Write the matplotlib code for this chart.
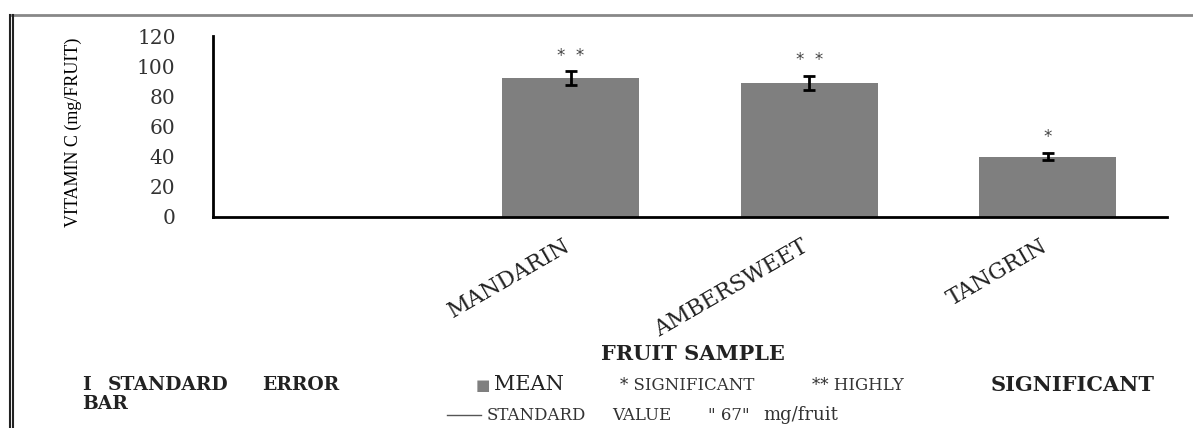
import numpy as np
import matplotlib
matplotlib.use("Agg")
import matplotlib.pyplot as plt
import matplotlib.transforms as mtransforms
from matplotlib.lines import Line2D

# Data
categories = ['MANDARIN', 'AMBERSWEET', 'TANGRIN']
means = [92, 89, 40]
errors = [4.5, 4.5, 2.3]
stars = ['*  *', '*  *', '*']
yticks = [0, 20, 40, 60, 80, 100, 120]

W, H = 1193, 428
fig = plt.figure(figsize=(W / 100, H / 100), dpi=100)

def fx(px):
    return px / W

def fy(py):
    return 1 - py / H

ax = fig.add_axes([fx(213), fy(217), fx(1167) - fx(213), fy(36) - fy(217)])

# first slot of the category axis stays empty (standard value series)
x = np.arange(len(categories)) + 1
ax.bar(x, means, width=0.573, color='#7f7f7f', zorder=2)
ax.errorbar(x, means, yerr=errors, fmt='none', ecolor='black',
            elinewidth=2, capsize=4.5, capthick=2, zorder=3)
for xi, m, e, s in zip(x, means, errors, stars):
    ax.annotate(s, (xi, m + e), xytext=(0, 5), textcoords='offset points',
                ha='center', va='bottom', fontsize=12, color='#444444',
                family='DejaVu Sans')

ax.set_xlim(-0.5, 3.5)
ax.set_ylim(0, 120)
ax.set_yticks(yticks)
ax.set_yticklabels([str(v) for v in yticks], family='DejaVu Serif',
                   fontsize=14.5, color='#333333')
ax.set_xticks(x)
ax.set_xticklabels(categories, rotation=30, ha='right', va='top',
                   rotation_mode='anchor', family='DejaVu Serif',
                   fontsize=16, color='#222222')
ax.tick_params(axis='y', length=0, pad=27)
ax.tick_params(axis='x', length=0, pad=13)
shift = mtransforms.ScaledTranslation(-8 / 100, 0, fig.dpi_scale_trans)
for lbl in ax.get_xticklabels():
    lbl.set_transform(lbl.get_transform() + shift)
for side in ['top', 'right']:
    ax.spines[side].set_visible(False)
ax.spines['left'].set_linewidth(2)
ax.spines['bottom'].set_linewidth(2)

# axis titles
fig.text(fx(73), fy(132), 'VITAMIN C (mg/FRUIT)', rotation=90,
         ha='center', va='center', family='Liberation Serif', fontsize=13)
fig.text(fx(693), fy(354), 'FRUIT SAMPLE', ha='center', va='center',
         family='DejaVu Serif', fontsize=15, fontweight='bold', color='#222222')

# legend / notes row
row1, row1b, row2 = 385, 404, 415
bold = dict(family='DejaVu Serif', fontweight='bold', color='#222222',
            ha='left', va='center', fontsize=13.5)
thin = dict(family='DejaVu Serif', color='#333333', ha='left', va='center',
            fontsize=12)
fig.text(fx(82), fy(row1), 'I', **bold)
fig.text(fx(108), fy(row1), 'STANDARD', **bold)
fig.text(fx(262), fy(row1), 'ERROR', **bold)
fig.text(fx(82), fy(row1b), 'BAR', **bold)

fig.text(fx(476), fy(row1 + 1), '■', ha='left', va='center', fontsize=11,
         color='#7f7f7f', family='DejaVu Sans')
fig.text(fx(494), fy(row1), 'MEAN', ha='left', va='center',
         family='DejaVu Serif', fontsize=15, color='#222222')
fig.text(fx(620), fy(row1), '* SIGNIFICANT', **thin)
fig.text(fx(812), fy(row1), '** HIGHLY', **thin)
fig.text(fx(1155), fy(row1), 'SIGNIFICANT', **dict(bold, ha='right',
                                                    fontsize=15))

fig.add_artist(Line2D([fx(447), fx(481)], [fy(row2), fy(row2)],
                      color='#555555', lw=1))
fig.text(fx(487), fy(row2), 'STANDARD', **thin)
fig.text(fx(612), fy(row2), 'VALUE', **thin)
fig.text(fx(708), fy(row2), '" 67"', **thin)
fig.text(fx(763), fy(row2), 'mg/fruit', **dict(thin, fontsize=13))

# outer frame (top and left edges of the original figure box)
fig.add_artist(Line2D([fx(10), 1], [fy(15), fy(15)], color='#888888', lw=2))
fig.add_artist(Line2D([fx(10), fx(10)], [fy(15), 0], color='#222222', lw=1.5))
fig.add_artist(Line2D([fx(13), fx(13)], [fy(15), 0], color='#222222', lw=1.5))

fig.savefig('out.png', dpi=100)
